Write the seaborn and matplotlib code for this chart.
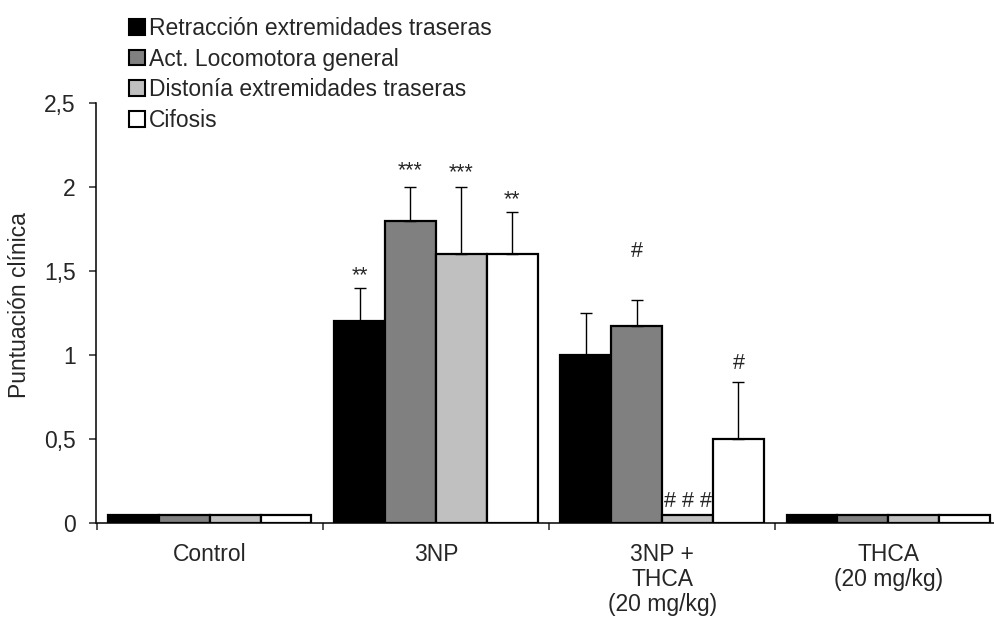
import matplotlib
matplotlib.use("Agg")
import matplotlib.pyplot as plt
from matplotlib.patches import Patch
import seaborn as sns
import pandas as pd

# Groups (x categories) and clinical-score series
grupos = ["Control", "3NP", "3NP +\nTHCA\n(20 mg/kg)", "THCA\n(20 mg/kg)"]
series = ["Retracción extremidades traseras", "Act. Locomotora general",
          "Distonía extremidades traseras", "Cifosis"]
colores = ["#000000", "#808080", "#C0C0C0", "#FFFFFF"]

retraccion = [0.05, 1.2, 1.0, 0.05]
locomotora = [0.05, 1.8, 1.17, 0.05]
distonia = [0.05, 1.6, 0.05, 0.05]
cifosis = [0.05, 1.6, 0.5, 0.05]

retraccion_err = [0, 0.2, 0.25, 0]
locomotora_err = [0, 0.2, 0.16, 0]
distonia_err = [0, 0.4, 0, 0]
cifosis_err = [0, 0.25, 0.34, 0]

# Significance marks: group index, series index, text, baseline height
marca_grupo = [1, 1, 1, 1, 2, 2, 2]
marca_serie = [0, 1, 2, 3, 1, 2, 3]
marca_texto = ["**", "***", "***", "**", "#", "# # #", "#"]
marca_y = [1.44, 2.065, 2.05, 1.89, 1.583, 0.095, 0.917]

yticks = [0, 0.5, 1, 1.5, 2, 2.5]
yticklabels = ["0", "0,5", "1", "1,5", "2", "2,5"]

valores = [retraccion, locomotora, distonia, cifosis]
errores = [retraccion_err, locomotora_err, distonia_err, cifosis_err]

df = pd.DataFrame({
    "grupo": [g for s in series for g in grupos],
    "serie": [s for s in series for g in grupos],
    "valor": [v for vals in valores for v in vals],
})

sns.set_style("ticks")
plt.rcParams["font.family"] = ["Liberation Sans", "DejaVu Sans"]
FS = 16.5

fig = plt.figure(figsize=(9.95, 6.19), dpi=100)
ax = fig.add_axes([96.5 / 995, 96 / 619, 905 / 995, 420 / 619])

sns.barplot(data=df, x="grupo", y="valor", hue="serie", order=grupos,
            hue_order=series, palette=colores, saturation=1, width=0.9,
            edgecolor="black", linewidth=1.6, errorbar=None, legend=False,
            ax=ax)

# Upper-only error bars at the centres of the drawn bars
for cont, errs, vals in zip(ax.containers, errores, valores):
    for patch, e, v in zip(cont.patches, errs, vals):
        if e > 0:
            xc = patch.get_x() + patch.get_width() / 2
            ax.errorbar([xc], [v], yerr=[[0], [e]], fmt="none",
                        ecolor="black", elinewidth=1.0, capsize=4,
                        capthick=1.0, zorder=3)

for g, s, t, y in zip(marca_grupo, marca_serie, marca_texto, marca_y):
    patch = ax.containers[s].patches[g]
    xc = patch.get_x() + patch.get_width() / 2
    ax.text(xc, y, t, ha="center", va="baseline", fontsize=FS - 1)

ax.set_xlim(-0.5, 3.5)
ax.set_ylim(0, 2.5)
ax.set_yticks(yticks)
ax.set_yticklabels(yticklabels, fontsize=FS)
ax.set_xticks(range(len(grupos)))
ax.set_xticklabels(grupos, fontsize=FS, linespacing=1.12)
ax.set_xticks([-0.5, 0.5, 1.5, 2.5, 3.5], minor=True)
ax.tick_params(axis="x", which="major", length=0, pad=14.5)
ax.tick_params(axis="x", which="minor", length=5, width=1.1, direction="out")
ax.tick_params(axis="y", length=5, width=1.1, direction="out", pad=10)
ax.set_xlabel("")
ax.set_ylabel("Puntuación clínica", fontsize=FS)
ax.yaxis.set_label_coords(-0.072, 0.52)

for side in ("top", "right"):
    ax.spines[side].set_visible(False)
for side in ("left", "bottom"):
    ax.spines[side].set_linewidth(1.1)
    ax.spines[side].set_color("black")

handles = [Patch(facecolor=c, edgecolor="black", linewidth=1.5) for c in colores]
fig.legend(handles, series, loc="upper left",
           bbox_to_anchor=(129 / 995, 1 - 17 / 619), frameon=False,
           borderpad=0, borderaxespad=0, handlelength=0.68, handleheight=0.68,
           handletextpad=0.2, labelspacing=0.33, fontsize=FS)

fig.savefig("out.png", dpi=100, facecolor="white")
